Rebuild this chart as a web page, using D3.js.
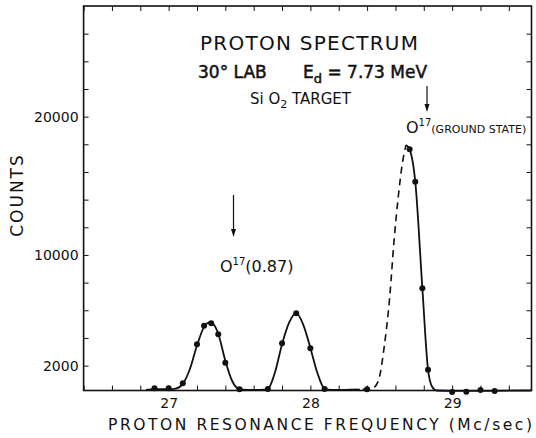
<!DOCTYPE html>
<html><head><meta charset="utf-8">
<script src="https://cdn.jsdelivr.net/npm/d3@7"></script>
<style>body{margin:0;background:#fff}svg{display:block}text{font-family:"DejaVu Sans",sans-serif;fill:#111}</style>
</head><body><svg id="c" width="536" height="438"></svg>
<script>
// measured points (frequency in Mc/sec, counts)
const freqs  = [26.9, 27.0, 27.1, 27.2, 27.25, 27.3, 27.35, 27.4, 27.5, 27.7, 27.8, 27.9, 28.0, 28.1, 28.4, 28.7, 28.74, 28.79, 28.83, 29.0, 29.1, 29.2, 29.3];
const counts = [360, 360, 720, 3540, 4890, 5060, 4260, 2210, 290, 310, 3610, 5780, 3250, 310, 290, 17640, 15300, 7590, 1700, 100, 110, 240, 160];
// drawn smooth curve (solid, dashed extrapolation, solid)
const curveSolidA = [[26.84,250],[26.9,300],[27.0,300],[27.05,340],[27.1,680],[27.15,1750],[27.2,3450],[27.25,4800],[27.29,5130],[27.32,4950],[27.35,4300],[27.4,2350],[27.45,850],[27.5,290],[27.55,240],[27.65,250],[27.7,320],[27.75,1500],[27.8,3550],[27.85,5100],[27.9,5790],[27.95,4950],[28.0,3280],[28.05,1450],[28.1,330],[28.15,240],[28.25,250],[28.35,270]];
const curveDashed = [[28.2,240],[28.35,270],[28.44,380],[28.48,900],[28.52,3300],[28.56,7000],[28.59,11000],[28.62,14200],[28.65,16700],[28.675,17950]];
const curveSolidB = [[28.675,17950],[28.7,17640],[28.74,15300],[28.79,7590],[28.83,1700],[28.86,450],[28.89,200],[29.0,170],[29.3,180],[29.56,200]];
const xTickVals = [26.4,26.6,26.8,27.0,27.2,27.4,27.6,27.8,28.0,28.2,28.4,28.6,28.8,29.0,29.2,29.4];
const xTickLabels = {27:"27", 28:"28", 29:"29"};
const yTickVals = [2000,4000,6000,8000,10000,12000,14000,16000,18000,20000,22000,24000,26000];
const yTickLabels = {2000:"2000", 10000:"10000", 20000:"20000"};

const svg = d3.select("#c");
const L=83.6, R=531.5, T=6, B=390.5;
const x = d3.scaleLinear().domain([26.4, 29.56]).range([L, R]);
const y = d3.scaleLinear().domain([200, 28000]).range([B, T]);

function styleAxis(g){ g.select(".domain").remove(); g.selectAll(".tick line").attr("stroke","#111").attr("stroke-width",1); }
svg.append("g").attr("transform",`translate(0,${B})`)
  .call(d3.axisBottom(x).tickValues(xTickVals).tickSize(-5).tickPadding(8).tickFormat(d=>xTickLabels[Math.round(d*10)/10]||""))
  .call(styleAxis).selectAll("text").attr("font-size",14).attr("fill","#111");
svg.append("g").attr("transform",`translate(0,${T})`)
  .call(d3.axisTop(x).tickValues(xTickVals).tickSize(-5).tickFormat(""))
  .call(styleAxis);
svg.append("g").attr("transform",`translate(${L},0)`)
  .call(d3.axisLeft(y).tickValues(yTickVals).tickSize(-5).tickPadding(5).tickFormat(d=>yTickLabels[d]||""))
  .call(styleAxis).selectAll("text").attr("font-size",14).attr("fill","#111");
svg.append("g").attr("transform",`translate(${R},0)`)
  .call(d3.axisRight(y).tickValues(yTickVals).tickSize(-5).tickFormat(""))
  .call(styleAxis);
svg.append("rect").attr("x",L).attr("y",T).attr("width",R-L).attr("height",B-T)
  .attr("fill","none").attr("stroke","#111").attr("stroke-width",1.6);

const line = d3.line().x(d=>x(d[0])).y(d=>y(d[1])).curve(d3.curveMonotoneX);
svg.append("path").attr("d",line(curveSolidA)).attr("fill","none").attr("stroke","#111").attr("stroke-width",1.8);
svg.append("path").attr("d",line(curveDashed)).attr("fill","none").attr("stroke","#111").attr("stroke-width",1.6).attr("stroke-dasharray","7,5");
svg.append("path").attr("d",line(curveSolidB)).attr("fill","none").attr("stroke","#111").attr("stroke-width",1.8);

svg.append("g").selectAll("circle").data(freqs.map((f,i)=>[f,counts[i]])).join("circle")
  .attr("cx",d=>x(d[0])).attr("cy",d=>y(d[1])).attr("r",3).attr("fill","#111");

// texts
svg.append("text").attr("x",309).attr("y",50).attr("text-anchor","middle").attr("font-size",20).attr("textLength",218).text("PROTON SPECTRUM");
const t2 = svg.append("text").attr("x",198).attr("y",78).attr("font-size",17).attr("stroke","#111").attr("stroke-width",0.5);
t2.append("tspan").text("30° LAB");
t2.append("tspan").attr("x",303).text("E");
t2.append("tspan").attr("font-size",13).attr("dy",5).text("d");
t2.append("tspan").attr("dy",-5).text(" = 7.73 MeV");
const t3 = svg.append("text").attr("x",250).attr("y",104).attr("font-size",15);
t3.append("tspan").text("Si O");
t3.append("tspan").attr("font-size",11).attr("dy",4).text("2");
t3.append("tspan").attr("dy",-4).text(" TARGET");

const t4 = svg.append("text").attr("x",406).attr("y",133).attr("font-size",16);
t4.append("tspan").text("O");
t4.append("tspan").attr("font-size",10).attr("dy",-7).text("17");
t4.append("tspan").attr("font-size",11).attr("dy",7).text("(GROUND STATE)");
const t5 = svg.append("text").attr("x",220).attr("y",272).attr("font-size",16);
t5.append("tspan").text("O");
t5.append("tspan").attr("font-size",10).attr("dy",-7).text("17");
t5.append("tspan").attr("dy",7).text("(0.87)");

function arrow(xp, y1, y2){
  svg.append("line").attr("x1",xp).attr("x2",xp).attr("y1",y1).attr("y2",y2-6).attr("stroke","#111").attr("stroke-width",1.2);
  svg.append("path").attr("d",`M${xp-2.5},${y2-8}L${xp+2.5},${y2-8}L${xp},${y2}Z`).attr("fill","#111");
}
arrow(233.5,195,237);
arrow(427,86,112);

svg.append("text").attr("transform","translate(23,195) rotate(-90)").attr("text-anchor","middle").attr("font-size",17).attr("letter-spacing",2).text("COUNTS");
svg.append("text").attr("x",320).attr("y",430).attr("text-anchor","middle").attr("font-size",15.5).attr("textLength",424).text("PROTON  RESONANCE  FREQUENCY  (Mc/sec)");
</script></body></html>
